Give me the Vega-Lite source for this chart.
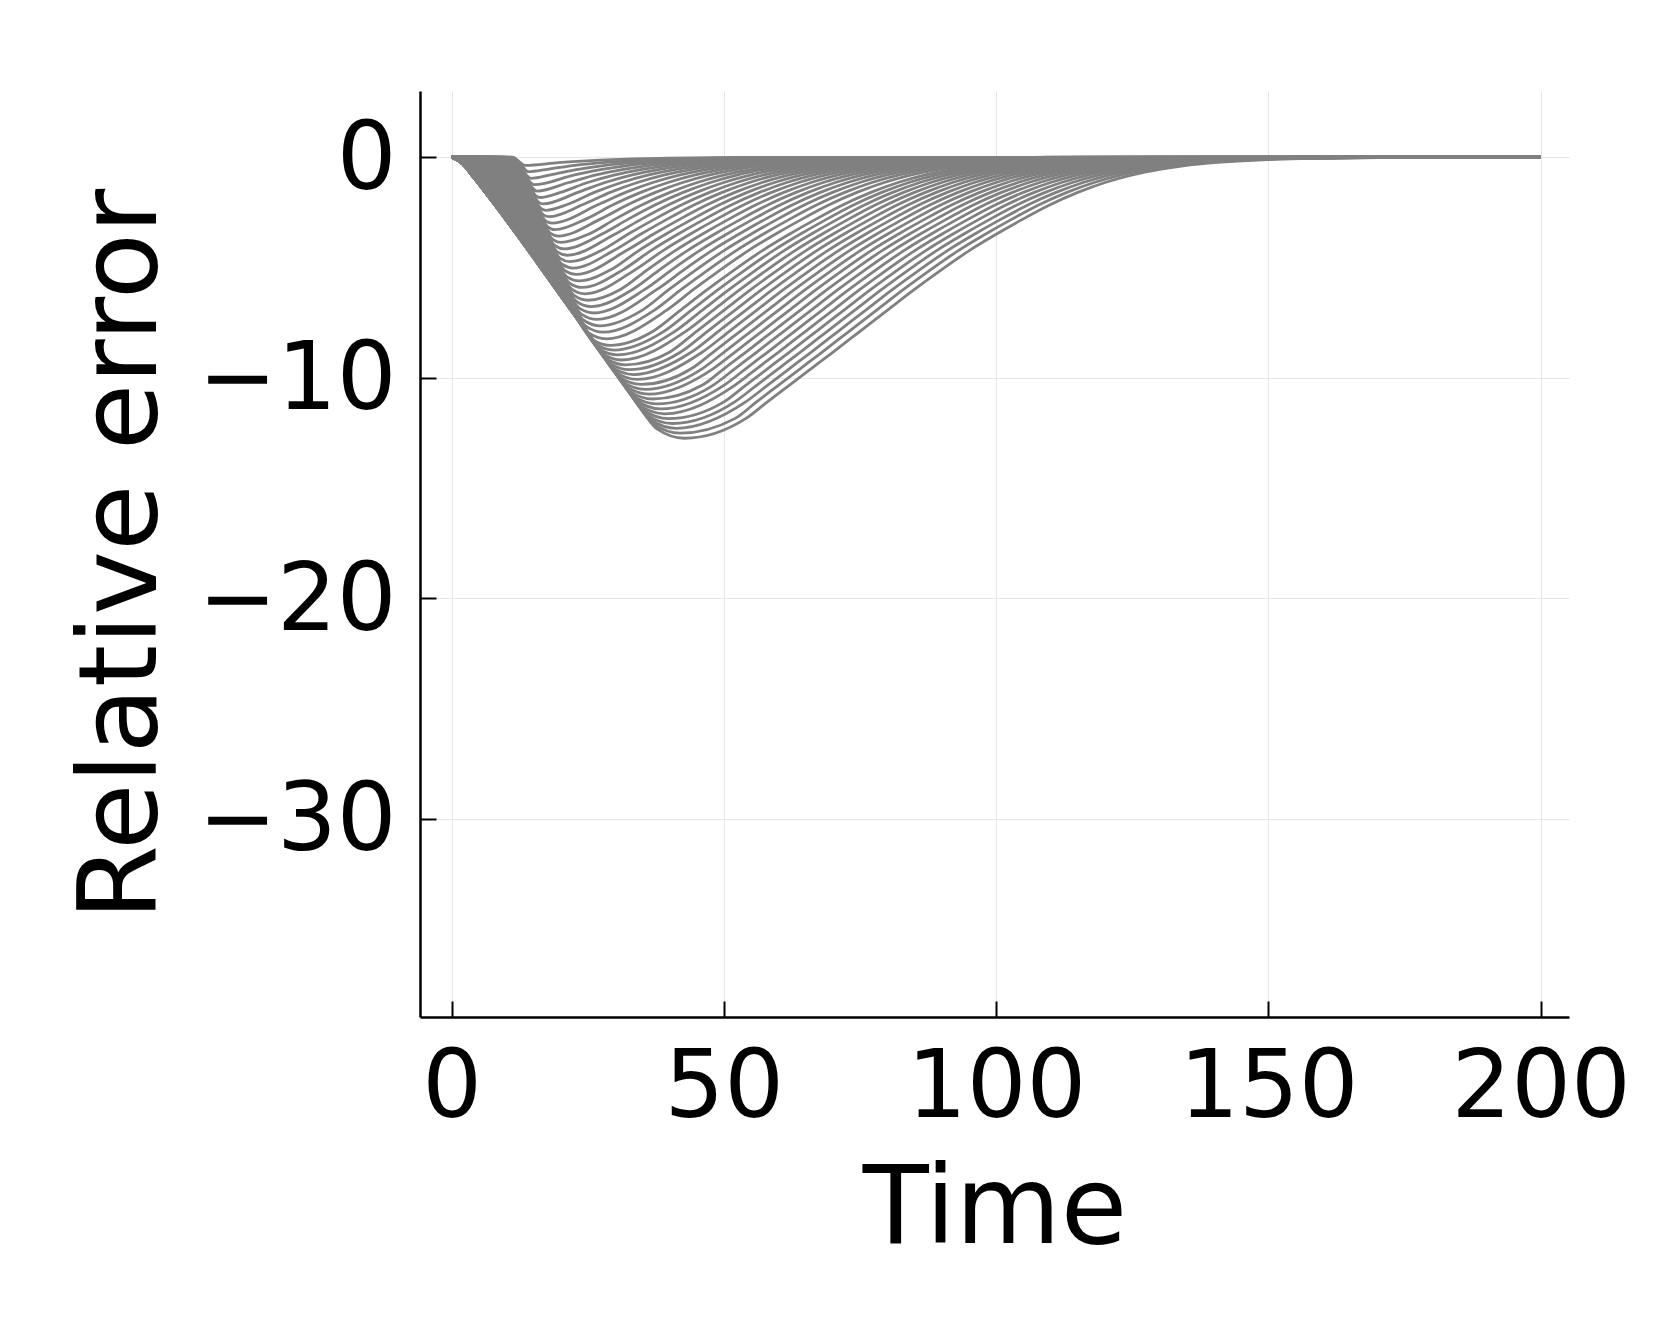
{
"$schema": "https://vega.github.io/schema/vega-lite/v6.json",
"width": 1149, "height": 926,
"autosize": "none",
"padding": {"left": 420, "top": 91, "right": 92, "bottom": 312},
"background": "white",
"config": {"view": {"stroke": null}, "font": "DejaVu Sans"},
"data": {"values": [
{"c":0,"t":0,"y":0},{"c":0,"t":2,"y":-0.3},{"c":0,"t":4,"y":-0.9},{"c":0,"t":6,"y":-1.53},{"c":0,"t":32.9,"y":-10.68},{"c":0,"t":37.8,"y":-12.34},{"c":0,"t":42.7,"y":-12.75},{"c":0,"t":54,"y":-11.86},{"c":0,"t":58,"y":-11.1},{"c":0,"t":62,"y":-10.35},{"c":0,"t":66,"y":-9.6},{"c":0,"t":70,"y":-8.85},{"c":0,"t":75,"y":-7.9},{"c":0,"t":80,"y":-6.95},{"c":0,"t":85,"y":-6},{"c":0,"t":90,"y":-5.1},{"c":0,"t":95,"y":-4.25},{"c":0,"t":100,"y":-3.5},{"c":0,"t":105,"y":-2.8},{"c":0,"t":110,"y":-2.15},{"c":0,"t":115,"y":-1.6},{"c":0,"t":120,"y":-1.15},{"c":0,"t":125,"y":-0.8},{"c":0,"t":130,"y":-0.55},{"c":0,"t":135,"y":-0.37},{"c":0,"t":140,"y":-0.25},{"c":0,"t":150,"y":-0.11},{"c":0,"t":160,"y":-0.05},{"c":0,"t":175,"y":-0.015},{"c":0,"t":200,"y":0},
{"c":1,"t":0,"y":0},{"c":1,"t":2,"y":-0.3},{"c":1,"t":4,"y":-0.9},{"c":1,"t":6,"y":-1.53},{"c":1,"t":32.34,"y":-10.49},{"c":1,"t":37.16,"y":-12.12},{"c":1,"t":41.98,"y":-12.52},{"c":1,"t":52,"y":-11.86},{"c":1,"t":56,"y":-11.1},{"c":1,"t":60,"y":-10.35},{"c":1,"t":64,"y":-9.6},{"c":1,"t":68,"y":-8.85},{"c":1,"t":73,"y":-7.9},{"c":1,"t":78,"y":-6.95},{"c":1,"t":83,"y":-6},{"c":1,"t":88,"y":-5.1},{"c":1,"t":93,"y":-4.25},{"c":1,"t":98,"y":-3.5},{"c":1,"t":103,"y":-2.8},{"c":1,"t":108,"y":-2.15},{"c":1,"t":113,"y":-1.6},{"c":1,"t":118,"y":-1.15},{"c":1,"t":123,"y":-0.8},{"c":1,"t":128,"y":-0.55},{"c":1,"t":133,"y":-0.37},{"c":1,"t":138,"y":-0.25},{"c":1,"t":148,"y":-0.11},{"c":1,"t":158,"y":-0.05},{"c":1,"t":173,"y":-0.015},{"c":1,"t":200,"y":0},
{"c":2,"t":0,"y":0},{"c":2,"t":2,"y":-0.3},{"c":2,"t":4,"y":-0.9},{"c":2,"t":6,"y":-1.53},{"c":2,"t":31.81,"y":-10.31},{"c":2,"t":36.54,"y":-11.91},{"c":2,"t":41.27,"y":-12.3},{"c":2,"t":54,"y":-11.1},{"c":2,"t":58,"y":-10.35},{"c":2,"t":62,"y":-9.6},{"c":2,"t":66,"y":-8.85},{"c":2,"t":71,"y":-7.9},{"c":2,"t":76,"y":-6.95},{"c":2,"t":81,"y":-6},{"c":2,"t":86,"y":-5.1},{"c":2,"t":91,"y":-4.25},{"c":2,"t":96,"y":-3.5},{"c":2,"t":101,"y":-2.8},{"c":2,"t":106,"y":-2.15},{"c":2,"t":111,"y":-1.6},{"c":2,"t":116,"y":-1.15},{"c":2,"t":121,"y":-0.8},{"c":2,"t":126,"y":-0.55},{"c":2,"t":131,"y":-0.37},{"c":2,"t":136,"y":-0.25},{"c":2,"t":146,"y":-0.11},{"c":2,"t":156,"y":-0.05},{"c":2,"t":171,"y":-0.015},{"c":2,"t":200,"y":0},
{"c":3,"t":0,"y":0},{"c":3,"t":2,"y":-0.3},{"c":3,"t":4,"y":-0.9},{"c":3,"t":6,"y":-1.53},{"c":3,"t":31.25,"y":-10.12},{"c":3,"t":35.9,"y":-11.7},{"c":3,"t":40.55,"y":-12.08},{"c":3,"t":52,"y":-11.1},{"c":3,"t":56,"y":-10.35},{"c":3,"t":60,"y":-9.6},{"c":3,"t":64,"y":-8.85},{"c":3,"t":69,"y":-7.9},{"c":3,"t":74,"y":-6.95},{"c":3,"t":79,"y":-6},{"c":3,"t":84,"y":-5.1},{"c":3,"t":89,"y":-4.25},{"c":3,"t":94,"y":-3.5},{"c":3,"t":99,"y":-2.8},{"c":3,"t":104,"y":-2.15},{"c":3,"t":109,"y":-1.6},{"c":3,"t":114,"y":-1.15},{"c":3,"t":119,"y":-0.8},{"c":3,"t":124,"y":-0.55},{"c":3,"t":129,"y":-0.37},{"c":3,"t":134,"y":-0.25},{"c":3,"t":144,"y":-0.11},{"c":3,"t":154,"y":-0.05},{"c":3,"t":169,"y":-0.015},{"c":3,"t":200,"y":0},
{"c":4,"t":0,"y":0},{"c":4,"t":2,"y":-0.3},{"c":4,"t":4,"y":-0.9},{"c":4,"t":6,"y":-1.53},{"c":4,"t":30.71,"y":-9.93},{"c":4,"t":35.27,"y":-11.48},{"c":4,"t":39.83,"y":-11.86},{"c":4,"t":50,"y":-11.1},{"c":4,"t":54,"y":-10.35},{"c":4,"t":58,"y":-9.6},{"c":4,"t":62,"y":-8.85},{"c":4,"t":67,"y":-7.9},{"c":4,"t":72,"y":-6.95},{"c":4,"t":77,"y":-6},{"c":4,"t":82,"y":-5.1},{"c":4,"t":87,"y":-4.25},{"c":4,"t":92,"y":-3.5},{"c":4,"t":97,"y":-2.8},{"c":4,"t":102,"y":-2.15},{"c":4,"t":107,"y":-1.6},{"c":4,"t":112,"y":-1.15},{"c":4,"t":117,"y":-0.8},{"c":4,"t":122,"y":-0.55},{"c":4,"t":127,"y":-0.37},{"c":4,"t":132,"y":-0.25},{"c":4,"t":142,"y":-0.11},{"c":4,"t":152,"y":-0.05},{"c":4,"t":167,"y":-0.015},{"c":4,"t":200,"y":0},
{"c":5,"t":0,"y":0},{"c":5,"t":2,"y":-0.3},{"c":5,"t":4,"y":-0.9},{"c":5,"t":6,"y":-1.53},{"c":5,"t":30.16,"y":-9.74},{"c":5,"t":34.64,"y":-11.27},{"c":5,"t":39.12,"y":-11.64},{"c":5,"t":52,"y":-10.35},{"c":5,"t":56,"y":-9.6},{"c":5,"t":60,"y":-8.85},{"c":5,"t":65,"y":-7.9},{"c":5,"t":70,"y":-6.95},{"c":5,"t":75,"y":-6},{"c":5,"t":80,"y":-5.1},{"c":5,"t":85,"y":-4.25},{"c":5,"t":90,"y":-3.5},{"c":5,"t":95,"y":-2.8},{"c":5,"t":100,"y":-2.15},{"c":5,"t":105,"y":-1.6},{"c":5,"t":110,"y":-1.15},{"c":5,"t":115,"y":-0.8},{"c":5,"t":120,"y":-0.55},{"c":5,"t":125,"y":-0.37},{"c":5,"t":130,"y":-0.25},{"c":5,"t":140,"y":-0.11},{"c":5,"t":150,"y":-0.05},{"c":5,"t":165,"y":-0.015},{"c":5,"t":200,"y":0},
{"c":6,"t":0,"y":0},{"c":6,"t":2,"y":-0.3},{"c":6,"t":4,"y":-0.9},{"c":6,"t":6,"y":-1.53},{"c":6,"t":29.62,"y":-9.56},{"c":6,"t":34.01,"y":-11.05},{"c":6,"t":38.4,"y":-11.42},{"c":6,"t":50,"y":-10.35},{"c":6,"t":54,"y":-9.6},{"c":6,"t":58,"y":-8.85},{"c":6,"t":63,"y":-7.9},{"c":6,"t":68,"y":-6.95},{"c":6,"t":73,"y":-6},{"c":6,"t":78,"y":-5.1},{"c":6,"t":83,"y":-4.25},{"c":6,"t":88,"y":-3.5},{"c":6,"t":93,"y":-2.8},{"c":6,"t":98,"y":-2.15},{"c":6,"t":103,"y":-1.6},{"c":6,"t":108,"y":-1.15},{"c":6,"t":113,"y":-0.8},{"c":6,"t":118,"y":-0.55},{"c":6,"t":123,"y":-0.37},{"c":6,"t":128,"y":-0.25},{"c":6,"t":138,"y":-0.11},{"c":6,"t":148,"y":-0.05},{"c":6,"t":163,"y":-0.015},{"c":6,"t":200,"y":0},
{"c":7,"t":0,"y":0},{"c":7,"t":2,"y":-0.3},{"c":7,"t":4,"y":-0.9},{"c":7,"t":6,"y":-1.53},{"c":7,"t":29.06,"y":-9.37},{"c":7,"t":33.37,"y":-10.84},{"c":7,"t":37.68,"y":-11.19},{"c":7,"t":48,"y":-10.35},{"c":7,"t":52,"y":-9.6},{"c":7,"t":56,"y":-8.85},{"c":7,"t":61,"y":-7.9},{"c":7,"t":66,"y":-6.95},{"c":7,"t":71,"y":-6},{"c":7,"t":76,"y":-5.1},{"c":7,"t":81,"y":-4.25},{"c":7,"t":86,"y":-3.5},{"c":7,"t":91,"y":-2.8},{"c":7,"t":96,"y":-2.15},{"c":7,"t":101,"y":-1.6},{"c":7,"t":106,"y":-1.15},{"c":7,"t":111,"y":-0.8},{"c":7,"t":116,"y":-0.55},{"c":7,"t":121,"y":-0.37},{"c":7,"t":126,"y":-0.25},{"c":7,"t":136,"y":-0.11},{"c":7,"t":146,"y":-0.05},{"c":7,"t":161,"y":-0.015},{"c":7,"t":200,"y":0},
{"c":8,"t":0,"y":0},{"c":8,"t":2,"y":-0.3},{"c":8,"t":4,"y":-0.9},{"c":8,"t":6,"y":-1.53},{"c":8,"t":28.52,"y":-9.19},{"c":8,"t":32.74,"y":-10.62},{"c":8,"t":36.96,"y":-10.97},{"c":8,"t":46,"y":-10.35},{"c":8,"t":50,"y":-9.6},{"c":8,"t":54,"y":-8.85},{"c":8,"t":59,"y":-7.9},{"c":8,"t":64,"y":-6.95},{"c":8,"t":69,"y":-6},{"c":8,"t":74,"y":-5.1},{"c":8,"t":79,"y":-4.25},{"c":8,"t":84,"y":-3.5},{"c":8,"t":89,"y":-2.8},{"c":8,"t":94,"y":-2.15},{"c":8,"t":99,"y":-1.6},{"c":8,"t":104,"y":-1.15},{"c":8,"t":109,"y":-0.8},{"c":8,"t":114,"y":-0.55},{"c":8,"t":119,"y":-0.37},{"c":8,"t":124,"y":-0.25},{"c":8,"t":134,"y":-0.11},{"c":8,"t":144,"y":-0.05},{"c":8,"t":159,"y":-0.015},{"c":8,"t":200,"y":0},
{"c":9,"t":0,"y":0},{"c":9,"t":2,"y":-0.3},{"c":9,"t":4,"y":-0.9},{"c":9,"t":6,"y":-1.53},{"c":9,"t":27.97,"y":-9},{"c":9,"t":32.11,"y":-10.41},{"c":9,"t":36.25,"y":-10.75},{"c":9,"t":48,"y":-9.6},{"c":9,"t":52,"y":-8.85},{"c":9,"t":57,"y":-7.9},{"c":9,"t":62,"y":-6.95},{"c":9,"t":67,"y":-6},{"c":9,"t":72,"y":-5.1},{"c":9,"t":77,"y":-4.25},{"c":9,"t":82,"y":-3.5},{"c":9,"t":87,"y":-2.8},{"c":9,"t":92,"y":-2.15},{"c":9,"t":97,"y":-1.6},{"c":9,"t":102,"y":-1.15},{"c":9,"t":107,"y":-0.8},{"c":9,"t":112,"y":-0.55},{"c":9,"t":117,"y":-0.37},{"c":9,"t":122,"y":-0.25},{"c":9,"t":132,"y":-0.11},{"c":9,"t":142,"y":-0.05},{"c":9,"t":157,"y":-0.015},{"c":9,"t":200,"y":0},
{"c":10,"t":0,"y":0},{"c":10,"t":2,"y":-0.3},{"c":10,"t":4,"y":-0.9},{"c":10,"t":6,"y":-1.53},{"c":10,"t":27.43,"y":-8.82},{"c":10,"t":31.48,"y":-10.19},{"c":10,"t":35.53,"y":-10.53},{"c":10,"t":46,"y":-9.6},{"c":10,"t":50,"y":-8.85},{"c":10,"t":55,"y":-7.9},{"c":10,"t":60,"y":-6.95},{"c":10,"t":65,"y":-6},{"c":10,"t":70,"y":-5.1},{"c":10,"t":75,"y":-4.25},{"c":10,"t":80,"y":-3.5},{"c":10,"t":85,"y":-2.8},{"c":10,"t":90,"y":-2.15},{"c":10,"t":95,"y":-1.6},{"c":10,"t":100,"y":-1.15},{"c":10,"t":105,"y":-0.8},{"c":10,"t":110,"y":-0.55},{"c":10,"t":115,"y":-0.37},{"c":10,"t":120,"y":-0.25},{"c":10,"t":130,"y":-0.11},{"c":10,"t":140,"y":-0.05},{"c":10,"t":155,"y":-0.015},{"c":10,"t":200,"y":0},
{"c":11,"t":0,"y":0},{"c":11,"t":2,"y":-0.3},{"c":11,"t":4,"y":-0.9},{"c":11,"t":6,"y":-1.53},{"c":11,"t":26.87,"y":-8.63},{"c":11,"t":30.84,"y":-9.98},{"c":11,"t":34.81,"y":-10.31},{"c":11,"t":44,"y":-9.6},{"c":11,"t":48,"y":-8.85},{"c":11,"t":53,"y":-7.9},{"c":11,"t":58,"y":-6.95},{"c":11,"t":63,"y":-6},{"c":11,"t":68,"y":-5.1},{"c":11,"t":73,"y":-4.25},{"c":11,"t":78,"y":-3.5},{"c":11,"t":83,"y":-2.8},{"c":11,"t":88,"y":-2.15},{"c":11,"t":93,"y":-1.6},{"c":11,"t":98,"y":-1.15},{"c":11,"t":103,"y":-0.8},{"c":11,"t":108,"y":-0.55},{"c":11,"t":113,"y":-0.37},{"c":11,"t":118,"y":-0.25},{"c":11,"t":128,"y":-0.11},{"c":11,"t":138,"y":-0.05},{"c":11,"t":153,"y":-0.015},{"c":11,"t":200,"y":0},
{"c":12,"t":0,"y":0},{"c":12,"t":2,"y":-0.3},{"c":12,"t":4,"y":-0.9},{"c":12,"t":6,"y":-1.53},{"c":12,"t":26.34,"y":-8.45},{"c":12,"t":30.22,"y":-9.76},{"c":12,"t":34.1,"y":-10.08},{"c":12,"t":46,"y":-8.85},{"c":12,"t":51,"y":-7.9},{"c":12,"t":56,"y":-6.95},{"c":12,"t":61,"y":-6},{"c":12,"t":66,"y":-5.1},{"c":12,"t":71,"y":-4.25},{"c":12,"t":76,"y":-3.5},{"c":12,"t":81,"y":-2.8},{"c":12,"t":86,"y":-2.15},{"c":12,"t":91,"y":-1.6},{"c":12,"t":96,"y":-1.15},{"c":12,"t":101,"y":-0.8},{"c":12,"t":106,"y":-0.55},{"c":12,"t":111,"y":-0.37},{"c":12,"t":116,"y":-0.25},{"c":12,"t":126,"y":-0.11},{"c":12,"t":136,"y":-0.05},{"c":12,"t":151,"y":-0.015},{"c":12,"t":200,"y":0},
{"c":13,"t":0,"y":0},{"c":13,"t":2,"y":-0.3},{"c":13,"t":4,"y":-0.9},{"c":13,"t":6,"y":-1.53},{"c":13,"t":25.8,"y":-8.26},{"c":13,"t":29.59,"y":-9.55},{"c":13,"t":33.38,"y":-9.86},{"c":13,"t":44,"y":-8.85},{"c":13,"t":49,"y":-7.9},{"c":13,"t":54,"y":-6.95},{"c":13,"t":59,"y":-6},{"c":13,"t":64,"y":-5.1},{"c":13,"t":69,"y":-4.25},{"c":13,"t":74,"y":-3.5},{"c":13,"t":79,"y":-2.8},{"c":13,"t":84,"y":-2.15},{"c":13,"t":89,"y":-1.6},{"c":13,"t":94,"y":-1.15},{"c":13,"t":99,"y":-0.8},{"c":13,"t":104,"y":-0.55},{"c":13,"t":109,"y":-0.37},{"c":13,"t":114,"y":-0.25},{"c":13,"t":124,"y":-0.11},{"c":13,"t":134,"y":-0.05},{"c":13,"t":149,"y":-0.015},{"c":13,"t":200,"y":0},
{"c":14,"t":0,"y":0},{"c":14,"t":2,"y":-0.3},{"c":14,"t":4,"y":-0.9},{"c":14,"t":6,"y":-1.53},{"c":14,"t":25.24,"y":-8.07},{"c":14,"t":28.95,"y":-9.33},{"c":14,"t":32.66,"y":-9.64},{"c":14,"t":42,"y":-8.85},{"c":14,"t":47,"y":-7.9},{"c":14,"t":52,"y":-6.95},{"c":14,"t":57,"y":-6},{"c":14,"t":62,"y":-5.1},{"c":14,"t":67,"y":-4.25},{"c":14,"t":72,"y":-3.5},{"c":14,"t":77,"y":-2.8},{"c":14,"t":82,"y":-2.15},{"c":14,"t":87,"y":-1.6},{"c":14,"t":92,"y":-1.15},{"c":14,"t":97,"y":-0.8},{"c":14,"t":102,"y":-0.55},{"c":14,"t":107,"y":-0.37},{"c":14,"t":112,"y":-0.25},{"c":14,"t":122,"y":-0.11},{"c":14,"t":132,"y":-0.05},{"c":14,"t":147,"y":-0.015},{"c":14,"t":200,"y":0},
{"c":15,"t":0,"y":0},{"c":15,"t":2,"y":-0.3},{"c":15,"t":4,"y":-0.9},{"c":15,"t":6,"y":-1.53},{"c":15,"t":24.71,"y":-7.89},{"c":15,"t":28.33,"y":-9.12},{"c":15,"t":31.95,"y":-9.42},{"c":15,"t":40,"y":-8.85},{"c":15,"t":45,"y":-7.9},{"c":15,"t":50,"y":-6.95},{"c":15,"t":55,"y":-6},{"c":15,"t":60,"y":-5.1},{"c":15,"t":65,"y":-4.25},{"c":15,"t":70,"y":-3.5},{"c":15,"t":75,"y":-2.8},{"c":15,"t":80,"y":-2.15},{"c":15,"t":85,"y":-1.6},{"c":15,"t":90,"y":-1.15},{"c":15,"t":95,"y":-0.8},{"c":15,"t":100,"y":-0.55},{"c":15,"t":105,"y":-0.37},{"c":15,"t":110,"y":-0.25},{"c":15,"t":120,"y":-0.11},{"c":15,"t":130,"y":-0.05},{"c":15,"t":145,"y":-0.015},{"c":15,"t":200,"y":0},
{"c":16,"t":0,"y":0},{"c":16,"t":2,"y":-0.3},{"c":16,"t":4,"y":-0.9},{"c":16,"t":6,"y":-1.53},{"c":16,"t":24.15,"y":-7.7},{"c":16,"t":27.69,"y":-8.9},{"c":16,"t":31.23,"y":-9.2},{"c":16,"t":43,"y":-7.9},{"c":16,"t":48,"y":-6.95},{"c":16,"t":53,"y":-6},{"c":16,"t":58,"y":-5.1},{"c":16,"t":63,"y":-4.25},{"c":16,"t":68,"y":-3.5},{"c":16,"t":73,"y":-2.8},{"c":16,"t":78,"y":-2.15},{"c":16,"t":83,"y":-1.6},{"c":16,"t":88,"y":-1.15},{"c":16,"t":93,"y":-0.8},{"c":16,"t":98,"y":-0.55},{"c":16,"t":103,"y":-0.37},{"c":16,"t":108,"y":-0.25},{"c":16,"t":118,"y":-0.11},{"c":16,"t":128,"y":-0.05},{"c":16,"t":143,"y":-0.015},{"c":16,"t":200,"y":0},
{"c":17,"t":0,"y":0},{"c":17,"t":2,"y":-0.3},{"c":17,"t":4,"y":-0.9},{"c":17,"t":6,"y":-1.53},{"c":17,"t":23.61,"y":-7.52},{"c":17,"t":27.06,"y":-8.69},{"c":17,"t":30.51,"y":-8.97},{"c":17,"t":41,"y":-7.9},{"c":17,"t":46,"y":-6.95},{"c":17,"t":51,"y":-6},{"c":17,"t":56,"y":-5.1},{"c":17,"t":61,"y":-4.25},{"c":17,"t":66,"y":-3.5},{"c":17,"t":71,"y":-2.8},{"c":17,"t":76,"y":-2.15},{"c":17,"t":81,"y":-1.6},{"c":17,"t":86,"y":-1.15},{"c":17,"t":91,"y":-0.8},{"c":17,"t":96,"y":-0.55},{"c":17,"t":101,"y":-0.37},{"c":17,"t":106,"y":-0.25},{"c":17,"t":116,"y":-0.11},{"c":17,"t":126,"y":-0.05},{"c":17,"t":141,"y":-0.015},{"c":17,"t":200,"y":0},
{"c":18,"t":0,"y":0},{"c":18,"t":2,"y":-0.3},{"c":18,"t":4,"y":-0.9},{"c":18,"t":6,"y":-1.53},{"c":18,"t":23.05,"y":-7.33},{"c":18,"t":26.42,"y":-8.47},{"c":18,"t":29.79,"y":-8.75},{"c":18,"t":39,"y":-7.9},{"c":18,"t":44,"y":-6.95},{"c":18,"t":49,"y":-6},{"c":18,"t":54,"y":-5.1},{"c":18,"t":59,"y":-4.25},{"c":18,"t":64,"y":-3.5},{"c":18,"t":69,"y":-2.8},{"c":18,"t":74,"y":-2.15},{"c":18,"t":79,"y":-1.6},{"c":18,"t":84,"y":-1.15},{"c":18,"t":89,"y":-0.8},{"c":18,"t":94,"y":-0.55},{"c":18,"t":99,"y":-0.37},{"c":18,"t":104,"y":-0.25},{"c":18,"t":114,"y":-0.11},{"c":18,"t":124,"y":-0.05},{"c":18,"t":139,"y":-0.015},{"c":18,"t":200,"y":0},
{"c":19,"t":0,"y":0},{"c":19,"t":2,"y":-0.3},{"c":19,"t":4,"y":-0.9},{"c":19,"t":6,"y":-1.53},{"c":19,"t":22.52,"y":-7.15},{"c":19,"t":25.8,"y":-8.26},{"c":19,"t":29.08,"y":-8.54},{"c":19,"t":37,"y":-7.9},{"c":19,"t":42,"y":-6.95},{"c":19,"t":47,"y":-6},{"c":19,"t":52,"y":-5.1},{"c":19,"t":57,"y":-4.25},{"c":19,"t":62,"y":-3.5},{"c":19,"t":67,"y":-2.8},{"c":19,"t":72,"y":-2.15},{"c":19,"t":77,"y":-1.6},{"c":19,"t":82,"y":-1.15},{"c":19,"t":87,"y":-0.8},{"c":19,"t":92,"y":-0.55},{"c":19,"t":97,"y":-0.37},{"c":19,"t":102,"y":-0.25},{"c":19,"t":112,"y":-0.11},{"c":19,"t":122,"y":-0.05},{"c":19,"t":137,"y":-0.015},{"c":19,"t":200,"y":0},
{"c":20,"t":0,"y":0},{"c":20,"t":0.25,"y":0},{"c":20,"t":2.25,"y":-0.3},{"c":20,"t":4.25,"y":-0.9},{"c":20,"t":6.25,"y":-1.53},{"c":20,"t":22.03,"y":-6.9},{"c":20,"t":25.2,"y":-7.97},{"c":20,"t":28.37,"y":-8.24},{"c":20,"t":39.44,"y":-6.95},{"c":20,"t":44.44,"y":-6},{"c":20,"t":49.44,"y":-5.1},{"c":20,"t":54.44,"y":-4.25},{"c":20,"t":59.44,"y":-3.5},{"c":20,"t":64.44,"y":-2.8},{"c":20,"t":69.44,"y":-2.15},{"c":20,"t":74.44,"y":-1.6},{"c":20,"t":79.44,"y":-1.15},{"c":20,"t":84.44,"y":-0.8},{"c":20,"t":89.44,"y":-0.55},{"c":20,"t":94.44,"y":-0.37},{"c":20,"t":99.44,"y":-0.25},{"c":20,"t":109.44,"y":-0.11},{"c":20,"t":119.44,"y":-0.05},{"c":20,"t":134.44,"y":-0.015},{"c":20,"t":200,"y":0},
{"c":21,"t":0,"y":0},{"c":21,"t":0.64,"y":0},{"c":21,"t":2.64,"y":-0.3},{"c":21,"t":4.64,"y":-0.9},{"c":21,"t":6.64,"y":-1.53},{"c":21,"t":21.71,"y":-6.65},{"c":21,"t":24.76,"y":-7.69},{"c":21,"t":27.82,"y":-7.94},{"c":21,"t":37.19,"y":-6.95},{"c":21,"t":42.19,"y":-6},{"c":21,"t":47.19,"y":-5.1},{"c":21,"t":52.19,"y":-4.25},{"c":21,"t":57.19,"y":-3.5},{"c":21,"t":62.19,"y":-2.8},{"c":21,"t":67.19,"y":-2.15},{"c":21,"t":72.19,"y":-1.6},{"c":21,"t":77.19,"y":-1.15},{"c":21,"t":82.19,"y":-0.8},{"c":21,"t":87.19,"y":-0.55},{"c":21,"t":92.19,"y":-0.37},{"c":21,"t":97.19,"y":-0.25},{"c":21,"t":107.19,"y":-0.11},{"c":21,"t":117.19,"y":-0.05},{"c":21,"t":132.19,"y":-0.015},{"c":21,"t":200,"y":0},
{"c":22,"t":0,"y":0},{"c":22,"t":1.03,"y":0},{"c":22,"t":3.03,"y":-0.3},{"c":22,"t":5.03,"y":-0.9},{"c":22,"t":7.03,"y":-1.53},{"c":22,"t":21.38,"y":-6.41},{"c":22,"t":24.33,"y":-7.41},{"c":22,"t":27.27,"y":-7.65},{"c":22,"t":34.95,"y":-6.95},{"c":22,"t":39.95,"y":-6},{"c":22,"t":44.95,"y":-5.1},{"c":22,"t":49.95,"y":-4.25},{"c":22,"t":54.95,"y":-3.5},{"c":22,"t":59.95,"y":-2.8},{"c":22,"t":64.95,"y":-2.15},{"c":22,"t":69.95,"y":-1.6},{"c":22,"t":74.95,"y":-1.15},{"c":22,"t":79.95,"y":-0.8},{"c":22,"t":84.95,"y":-0.55},{"c":22,"t":89.95,"y":-0.37},{"c":22,"t":94.95,"y":-0.25},{"c":22,"t":104.95,"y":-0.11},{"c":22,"t":114.95,"y":-0.05},{"c":22,"t":129.95,"y":-0.015},{"c":22,"t":200,"y":0},
{"c":23,"t":0,"y":0},{"c":23,"t":1.42,"y":0},{"c":23,"t":3.42,"y":-0.3},{"c":23,"t":5.42,"y":-0.9},{"c":23,"t":7.42,"y":-1.53},{"c":23,"t":21.06,"y":-6.16},{"c":23,"t":23.89,"y":-7.13},{"c":23,"t":26.72,"y":-7.36},{"c":23,"t":37.72,"y":-6},{"c":23,"t":42.72,"y":-5.1},{"c":23,"t":47.72,"y":-4.25},{"c":23,"t":52.72,"y":-3.5},{"c":23,"t":57.72,"y":-2.8},{"c":23,"t":62.72,"y":-2.15},{"c":23,"t":67.72,"y":-1.6},{"c":23,"t":72.72,"y":-1.15},{"c":23,"t":77.72,"y":-0.8},{"c":23,"t":82.72,"y":-0.55},{"c":23,"t":87.72,"y":-0.37},{"c":23,"t":92.72,"y":-0.25},{"c":23,"t":102.72,"y":-0.11},{"c":23,"t":112.72,"y":-0.05},{"c":23,"t":127.72,"y":-0.015},{"c":23,"t":200,"y":0},
{"c":24,"t":0,"y":0},{"c":24,"t":1.81,"y":0},{"c":24,"t":3.81,"y":-0.3},{"c":24,"t":5.81,"y":-0.9},{"c":24,"t":7.81,"y":-1.53},{"c":24,"t":20.72,"y":-5.92},{"c":24,"t":23.44,"y":-6.85},{"c":24,"t":26.16,"y":-7.07},{"c":24,"t":35.48,"y":-6},{"c":24,"t":40.48,"y":-5.1},{"c":24,"t":45.48,"y":-4.25},{"c":24,"t":50.48,"y":-3.5},{"c":24,"t":55.48,"y":-2.8},{"c":24,"t":60.48,"y":-2.15},{"c":24,"t":65.48,"y":-1.6},{"c":24,"t":70.48,"y":-1.15},{"c":24,"t":75.48,"y":-0.8},{"c":24,"t":80.48,"y":-0.55},{"c":24,"t":85.48,"y":-0.37},{"c":24,"t":90.48,"y":-0.25},{"c":24,"t":100.48,"y":-0.11},{"c":24,"t":110.48,"y":-0.05},{"c":24,"t":125.48,"y":-0.015},{"c":24,"t":200,"y":0},
{"c":25,"t":0,"y":0},{"c":25,"t":2.2,"y":0},{"c":25,"t":4.2,"y":-0.3},{"c":25,"t":6.2,"y":-0.9},{"c":25,"t":8.2,"y":-1.53},{"c":25,"t":20.39,"y":-5.68},{"c":25,"t":23,"y":-6.56},{"c":25,"t":25.61,"y":-6.78},{"c":25,"t":33.24,"y":-6},{"c":25,"t":38.24,"y":-5.1},{"c":25,"t":43.24,"y":-4.25},{"c":25,"t":48.24,"y":-3.5},{"c":25,"t":53.24,"y":-2.8},{"c":25,"t":58.24,"y":-2.15},{"c":25,"t":63.24,"y":-1.6},{"c":25,"t":68.24,"y":-1.15},{"c":25,"t":73.24,"y":-0.8},{"c":25,"t":78.24,"y":-0.55},{"c":25,"t":83.24,"y":-0.37},{"c":25,"t":88.24,"y":-0.25},{"c":25,"t":98.24,"y":-0.11},{"c":25,"t":108.24,"y":-0.05},{"c":25,"t":123.24,"y":-0.015},{"c":25,"t":200,"y":0},
{"c":26,"t":0,"y":0},{"c":26,"t":2.59,"y":0},{"c":26,"t":4.59,"y":-0.3},{"c":26,"t":6.59,"y":-0.9},{"c":26,"t":8.59,"y":-1.53},{"c":26,"t":20.07,"y":-5.43},{"c":26,"t":22.56,"y":-6.28},{"c":26,"t":25.06,"y":-6.49},{"c":26,"t":31.01,"y":-6},{"c":26,"t":36.01,"y":-5.1},{"c":26,"t":41.01,"y":-4.25},{"c":26,"t":46.01,"y":-3.5},{"c":26,"t":51.01,"y":-2.8},{"c":26,"t":56.01,"y":-2.15},{"c":26,"t":61.01,"y":-1.6},{"c":26,"t":66.01,"y":-1.15},{"c":26,"t":71.01,"y":-0.8},{"c":26,"t":76.01,"y":-0.55},{"c":26,"t":81.01,"y":-0.37},{"c":26,"t":86.01,"y":-0.25},{"c":26,"t":96.01,"y":-0.11},{"c":26,"t":106.01,"y":-0.05},{"c":26,"t":121.01,"y":-0.015},{"c":26,"t":200,"y":0},
{"c":27,"t":0,"y":0},{"c":27,"t":2.99,"y":0},{"c":27,"t":4.99,"y":-0.3},{"c":27,"t":6.99,"y":-0.9},{"c":27,"t":8.99,"y":-1.53},{"c":27,"t":19.74,"y":-5.19},{"c":27,"t":22.13,"y":-6},{"c":27,"t":24.51,"y":-6.2},{"c":27,"t":33.77,"y":-5.1},{"c":27,"t":38.77,"y":-4.25},{"c":27,"t":43.77,"y":-3.5},{"c":27,"t":48.77,"y":-2.8},{"c":27,"t":53.77,"y":-2.15},{"c":27,"t":58.77,"y":-1.6},{"c":27,"t":63.77,"y":-1.15},{"c":27,"t":68.77,"y":-0.8},{"c":27,"t":73.77,"y":-0.55},{"c":27,"t":78.77,"y":-0.37},{"c":27,"t":83.77,"y":-0.25},{"c":27,"t":93.77,"y":-0.11},{"c":27,"t":103.77,"y":-0.05},{"c":27,"t":118.77,"y":-0.015},{"c":27,"t":200,"y":0},
{"c":28,"t":0,"y":0},{"c":28,"t":3.38,"y":0},{"c":28,"t":5.38,"y":-0.3},{"c":28,"t":7.38,"y":-0.9},{"c":28,"t":9.38,"y":-1.53},{"c":28,"t":19.42,"y":-4.95},{"c":28,"t":21.69,"y":-5.72},{"c":28,"t":23.96,"y":-5.91},{"c":28,"t":31.54,"y":-5.1},{"c":28,"t":36.54,"y":-4.25},{"c":28,"t":41.54,"y":-3.5},{"c":28,"t":46.54,"y":-2.8},{"c":28,"t":51.54,"y":-2.15},{"c":28,"t":56.54,"y":-1.6},{"c":28,"t":61.54,"y":-1.15},{"c":28,"t":66.54,"y":-0.8},{"c":28,"t":71.54,"y":-0.55},{"c":28,"t":76.54,"y":-0.37},{"c":28,"t":81.54,"y":-0.25},{"c":28,"t":91.54,"y":-0.11},{"c":28,"t":101.54,"y":-0.05},{"c":28,"t":116.54,"y":-0.015},{"c":28,"t":200,"y":0},
{"c":29,"t":0,"y":0},{"c":29,"t":3.77,"y":0},{"c":29,"t":5.77,"y":-0.3},{"c":29,"t":7.77,"y":-0.9},{"c":29,"t":9.77,"y":-1.53},{"c":29,"t":19.09,"y":-4.7},{"c":29,"t":21.25,"y":-5.44},{"c":29,"t":23.41,"y":-5.61},{"c":29,"t":29.3,"y":-5.1},{"c":29,"t":34.3,"y":-4.25},{"c":29,"t":39.3,"y":-3.5},{"c":29,"t":44.3,"y":-2.8},{"c":29,"t":49.3,"y":-2.15},{"c":29,"t":54.3,"y":-1.6},{"c":29,"t":59.3,"y":-1.15},{"c":29,"t":64.3,"y":-0.8},{"c":29,"t":69.3,"y":-0.55},{"c":29,"t":74.3,"y":-0.37},{"c":29,"t":79.3,"y":-0.25},{"c":29,"t":89.3,"y":-0.11},{"c":29,"t":99.3,"y":-0.05},{"c":29,"t":114.3,"y":-0.015},{"c":29,"t":200,"y":0},
{"c":30,"t":0,"y":0},{"c":30,"t":4.16,"y":0},{"c":30,"t":6.16,"y":-0.3},{"c":30,"t":8.16,"y":-0.9},{"c":30,"t":10.16,"y":-1.53},{"c":30,"t":18.76,"y":-4.46},{"c":30,"t":20.81,"y":-5.15},{"c":30,"t":22.86,"y":-5.32},{"c":30,"t":32.03,"y":-4.25},{"c":30,"t":37.03,"y":-3.5},{"c":30,"t":42.03,"y":-2.8},{"c":30,"t":47.03,"y":-2.15},{"c":30,"t":52.03,"y":-1.6},{"c":30,"t":57.03,"y":-1.15},{"c":30,"t":62.03,"y":-0.8},{"c":30,"t":67.03,"y":-0.55},{"c":30,"t":72.03,"y":-0.37},{"c":30,"t":77.03,"y":-0.25},{"c":30,"t":87.03,"y":-0.11},{"c":30,"t":97.03,"y":-0.05},{"c":30,"t":112.03,"y":-0.015},{"c":30,"t":200,"y":0},
{"c":31,"t":0,"y":0},{"c":31,"t":4.55,"y":0},{"c":31,"t":6.55,"y":-0.3},{"c":31,"t":8.55,"y":-0.9},{"c":31,"t":10.55,"y":-1.53},{"c":31,"t":18.44,"y":-4.21},{"c":31,"t":20.37,"y":-4.87},{"c":31,"t":22.31,"y":-5.03},{"c":31,"t":29.7,"y":-4.25},{"c":31,"t":34.7,"y":-3.5},{"c":31,"t":39.7,"y":-2.8},{"c":31,"t":44.7,"y":-2.15},{"c":31,"t":49.7,"y":-1.6},{"c":31,"t":54.7,"y":-1.15},{"c":31,"t":59.7,"y":-0.8},{"c":31,"t":64.7,"y":-0.55},{"c":31,"t":69.7,"y":-0.37},{"c":31,"t":74.7,"y":-0.25},{"c":31,"t":84.7,"y":-0.11},{"c":31,"t":94.7,"y":-0.05},{"c":31,"t":109.7,"y":-0.015},{"c":31,"t":200,"y":0},
{"c":32,"t":0,"y":0},{"c":32,"t":4.94,"y":0},{"c":32,"t":6.94,"y":-0.3},{"c":32,"t":8.94,"y":-0.9},{"c":32,"t":10.94,"y":-1.53},{"c":32,"t":18.11,"y":-3.97},{"c":32,"t":19.94,"y":-4.59},{"c":32,"t":21.76,"y":-4.74},{"c":32,"t":27.37,"y":-4.25},{"c":32,"t":32.37,"y":-3.5},{"c":32,"t":37.37,"y":-2.8},{"c":32,"t":42.37,"y":-2.15},{"c":32,"t":47.37,"y":-1.6},{"c":32,"t":52.37,"y":-1.15},{"c":32,"t":57.37,"y":-0.8},{"c":32,"t":62.37,"y":-0.55},{"c":32,"t":67.37,"y":-0.37},{"c":32,"t":72.37,"y":-0.25},{"c":32,"t":82.37,"y":-0.11},{"c":32,"t":92.37,"y":-0.05},{"c":32,"t":107.37,"y":-0.015},{"c":32,"t":200,"y":0},
{"c":33,"t":0,"y":0},{"c":33,"t":5.33,"y":0},{"c":33,"t":7.33,"y":-0.3},{"c":33,"t":9.33,"y":-0.9},{"c":33,"t":11.33,"y":-1.53},{"c":33,"t":17.79,"y":-3.73},{"c":33,"t":19.5,"y":-4.31},{"c":33,"t":21.21,"y":-4.45},{"c":33,"t":29.97,"y":-3.5},{"c":33,"t":34.97,"y":-2.8},{"c":33,"t":39.97,"y":-2.15},{"c":33,"t":44.97,"y":-1.6},{"c":33,"t":49.97,"y":-1.15},{"c":33,"t":54.97,"y":-0.8},{"c":33,"t":59.97,"y":-0.55},{"c":33,"t":64.97,"y":-0.37},{"c":33,"t":69.97,"y":-0.25},{"c":33,"t":79.97,"y":-0.11},{"c":33,"t":89.97,"y":-0.05},{"c":33,"t":104.97,"y":-0.015},{"c":33,"t":200,"y":0},
{"c":34,"t":0,"y":0},{"c":34,"t":5.72,"y":0},{"c":34,"t":7.72,"y":-0.3},{"c":34,"t":9.72,"y":-0.9},{"c":34,"t":11.72,"y":-1.53},{"c":34,"t":17.46,"y":-3.48},{"c":34,"t":19.06,"y":-4.03},{"c":34,"t":20.66,"y":-4.16},{"c":34,"t":27.54,"y":-3.5},{"c":34,"t":32.54,"y":-2.8},{"c":34,"t":37.54,"y":-2.15},{"c":34,"t":42.54,"y":-1.6},{"c":34,"t":47.54,"y":-1.15},{"c":34,"t":52.54,"y":-0.8},{"c":34,"t":57.54,"y":-0.55},{"c":34,"t":62.54,"y":-0.37},{"c":34,"t":67.54,"y":-0.25},{"c":34,"t":77.54,"y":-0.11},{"c":34,"t":87.54,"y":-0.05},{"c":34,"t":102.54,"y":-0.015},{"c":34,"t":200,"y":0},
{"c":35,"t":0,"y":0},{"c":35,"t":6.11,"y":0},{"c":35,"t":8.11,"y":-0.3},{"c":35,"t":10.11,"y":-0.9},{"c":35,"t":12.11,"y":-1.53},{"c":35,"t":17.13,"y":-3.24},{"c":35,"t":18.62,"y":-3.74},{"c":35,"t":20.11,"y":-3.87},{"c":35,"t":25.11,"y":-3.5},{"c":35,"t":30.11,"y":-2.8},{"c":35,"t":35.11,"y":-2.15},{"c":35,"t":40.11,"y":-1.6},{"c":35,"t":45.11,"y":-1.15},{"c":35,"t":50.11,"y":-0.8},{"c":35,"t":55.11,"y":-0.55},{"c":35,"t":60.11,"y":-0.37},{"c":35,"t":65.11,"y":-0.25},{"c":35,"t":75.11,"y":-0.11},{"c":35,"t":85.11,"y":-0.05},{"c":35,"t":100.11,"y":-0.015},{"c":35,"t":200,"y":0},
{"c":36,"t":0,"y":0},{"c":36,"t":6.5,"y":0},{"c":36,"t":8.5,"y":-0.3},{"c":36,"t":10.5,"y":-0.9},{"c":36,"t":12.5,"y":-1.53},{"c":36,"t":16.81,"y":-2.99},{"c":36,"t":18.18,"y":-3.46},{"c":36,"t":19.56,"y":-3.58},{"c":36,"t":27.43,"y":-2.8},{"c":36,"t":32.43,"y":-2.15},{"c":36,"t":37.43,"y":-1.6},{"c":36,"t":42.43,"y":-1.15},{"c":36,"t":47.43,"y":-0.8},{"c":36,"t":52.43,"y":-0.55},{"c":36,"t":57.43,"y":-0.37},{"c":36,"t":62.43,"y":-0.25},{"c":36,"t":72.43,"y":-0.11},{"c":36,"t":82.43,"y":-0.05},{"c":36,"t":97.43,"y":-0.015},{"c":36,"t":200,"y":0},
{"c":37,"t":0,"y":0},{"c":37,"t":6.89,"y":0},{"c":37,"t":8.89,"y":-0.3},{"c":37,"t":10.89,"y":-0.9},{"c":37,"t":12.89,"y":-1.53},{"c":37,"t":16.48,"y":-2.75},{"c":37,"t":17.75,"y":-3.18},{"c":37,"t":19.01,"y":-3.29},{"c":37,"t":24.74,"y":-2.8},{"c":37,"t":29.74,"y":-2.15},{"c":37,"t":34.74,"y":-1.6},{"c":37,"t":39.74,"y":-1.15},{"c":37,"t":44.74,"y":-0.8},{"c":37,"t":49.74,"y":-0.55},{"c":37,"t":54.74,"y":-0.37},{"c":37,"t":59.74,"y":-0.25},{"c":37,"t":69.74,"y":-0.11},{"c":37,"t":79.74,"y":-0.05},{"c":37,"t":94.74,"y":-0.015},{"c":37,"t":200,"y":0},
{"c":38,"t":0,"y":0},{"c":38,"t":7.28,"y":0},{"c":38,"t":9.28,"y":-0.3},{"c":38,"t":11.28,"y":-0.9},{"c":38,"t":13.28,"y":-1.53},{"c":38,"t":16.16,"y":-2.51},{"c":38,"t":17.31,"y":-2.9},{"c":38,"t":18.46,"y":-2.99},{"c":38,"t":26.96,"y":-2.15},{"c":38,"t":31.96,"y":-1.6},{"c":38,"t":36.96,"y":-1.15},{"c":38,"t":41.96,"y":-0.8},{"c":38,"t":46.96,"y":-0.55},{"c":38,"t":51.96,"y":-0.37},{"c":38,"t":56.96,"y":-0.25},{"c":38,"t":66.96,"y":-0.11},{"c":38,"t":76.96,"y":-0.05},{"c":38,"t":91.96,"y":-0.015},{"c":38,"t":200,"y":0},
{"c":39,"t":0,"y":0},{"c":39,"t":7.67,"y":0},{"c":39,"t":9.67,"y":-0.3},{"c":39,"t":11.67,"y":-0.9},{"c":39,"t":13.67,"y":-1.53},{"c":39,"t":15.83,"y":-2.26},{"c":39,"t":16.87,"y":-2.62},{"c":39,"t":17.91,"y":-2.7},{"c":39,"t":24.12,"y":-2.15},{"c":39,"t":29.12,"y":-1.6},{"c":39,"t":34.12,"y":-1.15},{"c":39,"t":39.12,"y":-0.8},{"c":39,"t":44.12,"y":-0.55},{"c":39,"t":49.12,"y":-0.37},{"c":39,"t":54.12,"y":-0.25},{"c":39,"t":64.12,"y":-0.11},{"c":39,"t":74.12,"y":-0.05},{"c":39,"t":89.12,"y":-0.015},{"c":39,"t":200,"y":0},
{"c":40,"t":0,"y":0},{"c":40,"t":8.06,"y":0},{"c":40,"t":10.06,"y":-0.3},{"c":40,"t":12.06,"y":-0.9},{"c":40,"t":14.06,"y":-1.53},{"c":40,"t":15.5,"y":-2.02},{"c":40,"t":16.43,"y":-2.33},{"c":40,"t":17.36,"y":-2.41},{"c":40,"t":21.21,"y":-2.15},{"c":40,"t":26.21,"y":-1.6},{"c":40,"t":31.21,"y":-1.15},{"c":40,"t":36.21,"y":-0.8},{"c":40,"t":41.21,"y":-0.55},{"c":40,"t":46.21,"y":-0.37},{"c":40,"t":51.21,"y":-0.25},{"c":40,"t":61.21,"y":-0.11},{"c":40,"t":71.21,"y":-0.05},{"c":40,"t":86.21,"y":-0.015},{"c":40,"t":200,"y":0},
{"c":41,"t":0,"y":0},{"c":41,"t":8.46,"y":0},{"c":41,"t":10.46,"y":-0.3},{"c":41,"t":12.46,"y":-0.9},{"c":41,"t":14.46,"y":-1.53},{"c":41,"t":15.18,"y":-1.78},{"c":41,"t":15.99,"y":-2.05},{"c":41,"t":16.81,"y":-2.12},{"c":41,"t":23.19,"y":-1.6},{"c":41,"t":28.19,"y":-1.15},{"c":41,"t":33.19,"y":-0.8},{"c":41,"t":38.19,"y":-0.55},{"c":41,"t":43.19,"y":-0.37},{"c":41,"t":48.19,"y":-0.25},{"c":41,"t":58.19,"y":-0.11},{"c":41,"t":68.19,"y":-0.05},{"c":41,"t":83.19,"y":-0.015},{"c":41,"t":200,"y":0},
{"c":42,"t":0,"y":0},{"c":42,"t":8.85,"y":0},{"c":42,"t":10.85,"y":-0.3},{"c":42,"t":12.85,"y":-0.9},{"c":42,"t":14.85,"y":-1.53},{"c":42,"t":15.56,"y":-1.77},{"c":42,"t":16.26,"y":-1.83},{"c":42,"t":19.99,"y":-1.6},{"c":42,"t":24.99,"y":-1.15},{"c":42,"t":29.99,"y":-0.8},{"c":42,"t":34.99,"y":-0.55},{"c":42,"t":39.99,"y":-0.37},{"c":42,"t":44.99,"y":-0.25},{"c":42,"t":54.99,"y":-0.11},{"c":42,"t":64.99,"y":-0.05},{"c":42,"t":79.99,"y":-0.015},{"c":42,"t":200,"y":0},
{"c":43,"t":0,"y":0},{"c":43,"t":9.24,"y":0},{"c":43,"t":11.24,"y":-0.3},{"c":43,"t":13.24,"y":-0.9},{"c":43,"t":14.5,"y":-1.3},{"c":43,"t":15.71,"y":-1.54},{"c":43,"t":21.53,"y":-1.15},{"c":43,"t":26.53,"y":-0.8},{"c":43,"t":31.53,"y":-0.55},{"c":43,"t":36.53,"y":-0.37},{"c":43,"t":41.53,"y":-0.25},{"c":43,"t":51.53,"y":-0.11},{"c":43,"t":61.53,"y":-0.05},{"c":43,"t":76.53,"y":-0.015},{"c":43,"t":200,"y":0},
{"c":44,"t":0,"y":0},{"c":44,"t":9.67,"y":0},{"c":44,"t":11.67,"y":-0.3},{"c":44,"t":13.67,"y":-0.9},{"c":44,"t":15.16,"y":-1.25},{"c":44,"t":22.6,"y":-0.8},{"c":44,"t":27.6,"y":-0.55},{"c":44,"t":32.6,"y":-0.37},{"c":44,"t":37.6,"y":-0.25},{"c":44,"t":47.6,"y":-0.11},{"c":44,"t":57.6,"y":-0.05},{"c":44,"t":72.6,"y":-0.015},{"c":44,"t":200,"y":0},
{"c":45,"t":0,"y":0},{"c":45,"t":10.13,"y":0},{"c":45,"t":12.13,"y":-0.3},{"c":45,"t":14.61,"y":-0.96},{"c":45,"t":18.18,"y":-0.8},{"c":45,"t":23.18,"y":-0.55},{"c":45,"t":28.18,"y":-0.37},{"c":45,"t":33.18,"y":-0.25},{"c":45,"t":43.18,"y":-0.11},{"c":45,"t":53.18,"y":-0.05},{"c":45,"t":68.18,"y":-0.015},{"c":45,"t":200,"y":0},
{"c":46,"t":0,"y":0},{"c":46,"t":10.63,"y":0},{"c":46,"t":12.63,"y":-0.3},{"c":46,"t":14.06,"y":-0.66},{"c":46,"t":17.66,"y":-0.55},{"c":46,"t":22.66,"y":-0.37},{"c":46,"t":27.66,"y":-0.25},{"c":46,"t":37.66,"y":-0.11},{"c":46,"t":47.66,"y":-0.05},{"c":46,"t":62.66,"y":-0.015},{"c":46,"t":200,"y":0},
{"c":47,"t":0,"y":0},{"c":47,"t":11.14,"y":0},{"c":47,"t":13.51,"y":-0.37},{"c":47,"t":19.62,"y":-0.25},{"c":47,"t":29.62,"y":-0.11},{"c":47,"t":39.62,"y":-0.05},{"c":47,"t":54.62,"y":-0.015},{"c":47,"t":200,"y":0}
]},
"mark": {"type": "line", "interpolate": "monotone", "color": "#808080", "strokeWidth": 2.8, "clip": true},
"encoding": {
  "x": {"field": "t", "type": "quantitative",
    "scale": {"domain": [-5.8, 205.2], "nice": false, "zero": false},
    "axis": {"title": "Time", "values": [0, 50, 100, 150, 200], "format": "d",
      "labelFont": "DejaVu Sans", "labelFontSize": 94, "labelColor": "black", "labelPadding": 41, "labelFlush": false, "labelOverlap": false, "labelLimit": 0,
      "tickSize": -16, "tickWidth": 2, "tickColor": "black",
      "domainColor": "black", "domainWidth": 2.5,
      "grid": true, "gridColor": "#e6e6e6", "gridWidth": 1,
      "titleFont": "DejaVu Sans", "titleFontSize": 108, "titleFontWeight": "normal", "titleColor": "black", "titlePadding": 22}},
  "y": {"field": "y", "type": "quantitative",
    "scale": {"domain": [-39, 3], "nice": false, "zero": false},
    "axis": {"title": "Relative error", "values": [0, -10, -20, -30], "format": "d",
      "labelFont": "DejaVu Sans", "labelFontSize": 94, "labelColor": "black", "labelPadding": 40, "labelOffset": 3, "labelFlush": false, "labelOverlap": false, "labelLimit": 0,
      "tickSize": -16, "tickWidth": 2, "tickColor": "black",
      "domainColor": "black", "domainWidth": 2.5,
      "grid": true, "gridColor": "#e6e6e6", "gridWidth": 1,
      "titleFont": "DejaVu Sans", "titleFontSize": 108, "titleFontWeight": "normal", "titleColor": "black", "titlePadding": 42}},
  "detail": {"field": "c", "type": "nominal"}
}
}
